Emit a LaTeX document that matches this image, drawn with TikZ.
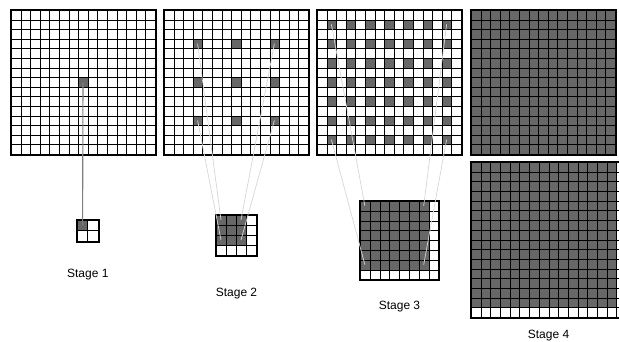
\documentclass[tikz,border=0pt]{standalone}
\usepackage{fontspec}
\setmainfont{Liberation Sans}
\usetikzlibrary{positioning}
\definecolor{pix}{HTML}{676767}
\definecolor{ray}{HTML}{D6D6D6}
\definecolor{probe}{HTML}{7F7F7F}
\tikzset{
  gridline/.style={line width=1.8pt},
  frame/.style={line width=2pt},
  ray/.style={draw=ray, line width=0.7pt},
  probe/.style={draw=probe, line width=1.1pt},
  stagelabel/.style={font=\fontsize{12}{14}\selectfont, inner sep=0pt},
}
% lines sit on pixel centres: #1 left, #2 top, #3 columns, #4 rows, #5 cell size
\newcommand{\pixgrid}[5]{%
  \pgfmathtruncatemacro\pxa{#1+0.5}
  \pgfmathtruncatemacro\pxb{#1+#3*#5+0.5}
  \pgfmathtruncatemacro\pya{#2+0.5}
  \pgfmathtruncatemacro\pyb{#2+#4*#5+0.5}
  \pgfmathtruncatemacro\pxc{\pxb+1}
  \pgfmathtruncatemacro\pyc{\pyb+1}
  \foreach \k in {0,...,#3} {
    \pgfmathtruncatemacro\pxk{#1+\k*#5+0.5}
    \draw[gridline] (\pxk.5,-\pya.5) -- (\pxk.5,-\pyb.5);
  }
  \foreach \k in {0,...,#4} {
    \pgfmathtruncatemacro\pyk{#2+\k*#5+0.5}
    \draw[gridline] (\pxa.5,-\pyk.5) -- (\pxb.5,-\pyk.5);
  }
  \draw[frame] (\pxa,-\pya) rectangle (\pxc,-\pyc);
}
% #1 left, #2 top, #3 first column, #4 first row, #5 columns, #6 rows, #7 cell size
\newcommand{\pixon}[7]{%
  \pgfmathtruncatemacro\pxa{#1+#3*#7+0.5}
  \pgfmathtruncatemacro\pxb{#1+(#3+#5)*#7+0.5}
  \pgfmathtruncatemacro\pya{#2+#4*#7+0.5}
  \pgfmathtruncatemacro\pyb{#2+(#4+#6)*#7+0.5}
  \fill[pix] (\pxa.5,-\pya.5) rectangle (\pxb.5,-\pyb.5);
}

\begin{document}
\begin{tikzpicture}[x=1pt, y=1pt]
    \clip (0,0) rectangle (619,-341);
    % stage 1
    \pixon{11}{10}{7}{7}{1}{1}{9.6}
    \pixgrid{11}{10}{15}{15}{9.6}
    \pixon{77}{220}{0}{0}{1}{1}{10.3}
    \pixgrid{77}{220}{2}{2}{10.3}
    % stage 2
    \foreach \c in {3,7,11} \foreach \r in {3,7,11} {\pixon{164}{10}{\c}{\r}{1}{1}{9.6}}
    \pixgrid{164}{10}{15}{15}{9.6}
    \pixon{216}{215}{0}{0}{3}{3}{10}
    \pixgrid{216}{215}{4}{4}{10}
    % stage 3
    \foreach \c in {1,3,...,13} \foreach \r in {1,3,...,13} {\pixon{317}{10}{\c}{\r}{1}{1}{9.6}}
    \pixgrid{317}{10}{15}{15}{9.6}
    \pixon{360}{201}{0}{0}{7}{7}{9.8}
    \pixgrid{360}{201}{8}{8}{9.8}
    % stage 4
    \pixon{471}{10}{0}{0}{15}{15}{9.6}
    \pixgrid{471}{10}{15}{15}{9.6}
    \pixon{471}{162}{0}{0}{15}{15}{9.7}
    \pixgrid{471}{162}{16}{16}{9.7}
    % cell centres
    \coordinate (a1) at (83,-82.6);
    \coordinate (b1) at (82.6,-225.1);
    \coordinate (a2tl) at (197.6,-43.6);
    \coordinate (a2bl) at (197.6,-120.4);
    \coordinate (a2tr) at (274.4,-43.6);
    \coordinate (a2br) at (274.4,-120.4);
    \coordinate (b2tl) at (221,-220);
    \coordinate (b2bl) at (221,-240);
    \coordinate (b2tr) at (241,-220);
    \coordinate (b2br) at (241,-240);
    \coordinate (a3tl) at (331.4,-24.4);
    \coordinate (a3bl) at (331.4,-139.6);
    \coordinate (a3tr) at (446.6,-24.4);
    \coordinate (a3br) at (446.6,-139.6);
    \coordinate (b3tl) at (364.9,-205.9);
    \coordinate (b3bl) at (364.9,-264.7);
    \coordinate (b3tr) at (423.7,-205.9);
    \coordinate (b3br) at (423.7,-264.7);
    \draw[probe] (a1) -- (b1);
    \foreach \s in {2,3} \foreach \p in {tl,bl,tr,br} \draw[ray] (a\s\p) -- (b\s\p);
    % labels
    \node[stagelabel] (l1) at (87.8,-275) {Stage 1};
    \node[stagelabel] (l2) at (236.5,-294) {Stage 2};
    \node[stagelabel] (l3) at (399.5,-307) {Stage 3};
    \node[stagelabel] (l4) at (548.5,-336) {Stage 4};
  \end{tikzpicture}
\end{document}
